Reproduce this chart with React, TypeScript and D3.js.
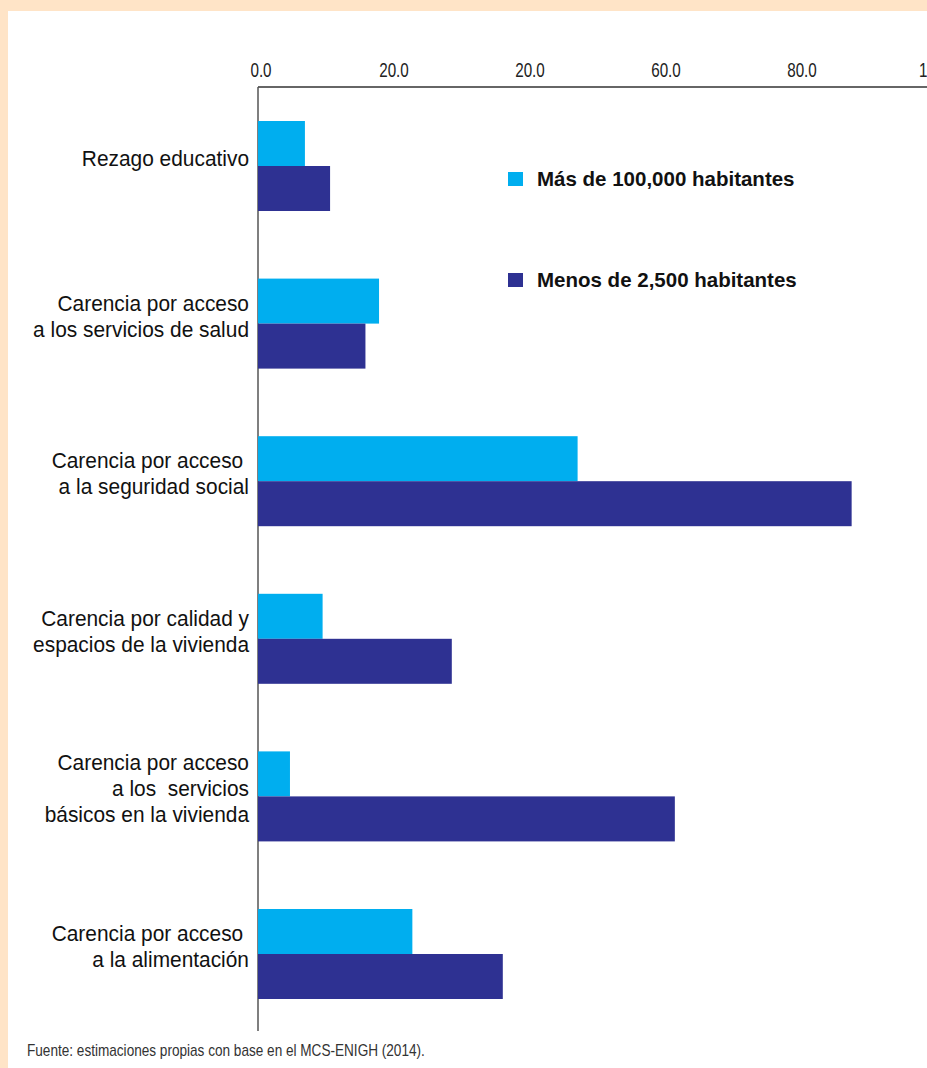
import React from 'react';
import * as d3 from 'd3';

// categorias (cada una con sus lineas de texto)
const categories = [
  'Rezago educativo',
  'Salud',
  'Seguridad social',
  'Vivienda',
  'Servicios basicos',
  'Alimentacion',
];
const categoryLines = [
  ['Rezago educativo'],
  ['Carencia por acceso', 'a los servicios de salud'],
  ['Carencia por acceso\u00a0', 'a la seguridad social'],
  ['Carencia por calidad y', 'espacios de la vivienda'],
  ['Carencia por acceso', 'a los  servicios', 'básicos en la vivienda'],
  ['Carencia por acceso\u00a0', 'a la alimentación'],
];
const seriesNames = ['Más de 100,000 habitantes', 'Menos de 2,500 habitantes'];
const masDe100mil = [6.9, 17.8, 47.0, 9.5, 4.7, 22.7];
const menosDe2500 = [10.6, 15.8, 87.3, 28.5, 61.3, 36.0];
const tickValues = [0, 20, 40, 60, 80, 100];
const tickLabels = ['0.0', '20.0', '20.0', '60.0', '80.0', '100.0'];
const colors = ['#00AEEF', '#2E3192'];

const W = 927;
const H = 1068;
const font = '"Liberation Sans", Arial, sans-serif';

export default function App() {
  const x = d3.scaleLinear().domain([0, 100]).range([258, 938]);
  const y = d3.scaleBand<string>().domain(categories).range([121, 999]).paddingInner(0.4289).paddingOuter(0);
  const inner = d3.scaleBand<number>().domain([0, 1]).range([0, y.bandwidth()]);
  const series = [masDe100mil, menosDe2500];

  return (
    <div style={{ position: 'absolute', top: 0, left: 0 }}>
      <svg width={W} height={H} style={{ display: 'block' }}>
        <rect x={0} y={0} width={W} height={H} fill="#FFE4C7" />
        <rect x={8} y={11} width={W - 8} height={H - 11} fill="#fff" />

        {/* ejes */}
        <line x1={x(0)} x2={W} y1={87} y2={87} stroke="#333" strokeWidth={1.5} />
        <line x1={x(0)} x2={x(0)} y1={87} y2={1031} stroke="#555" strokeWidth={1.5} />
        {tickValues.map((v, i) => (
          <text
            key={v}
            transform={`translate(${x(v) + (v === 0 ? 3 : 0)},77) scale(0.78,1)`}
            textAnchor="middle"
            fontFamily={font}
            fontSize={19.5}
            fill="#222"
          >
            {tickLabels[i]}
          </text>
        ))}

        {/* barras */}
        {categories.map((c, ci) => (
          <g key={c} transform={`translate(0,${y(c)})`}>
            {series.map((s, si) => (
              <rect
                key={si}
                x={x(0)}
                y={inner(si)}
                width={x(s[ci]) - x(0)}
                height={inner.bandwidth()}
                fill={colors[si]}
              />
            ))}
          </g>
        ))}

        {/* etiquetas */}
        {categories.map((c, ci) => {
          const lines = categoryLines[ci];
          const mid = (y(c) as number) + y.bandwidth() / 2;
          return (
            <text
              key={c}
              transform="translate(249,0) scale(0.95,1)"
              textAnchor="end"
              fontFamily={font}
              fontSize={22}
              fill="#111"
              style={{ whiteSpace: 'pre' }}
            >
              {lines.map((l, li) => (
                <tspan key={li} x={0} y={mid + (li - (lines.length - 1) / 2) * 26}>
                  {l}
                </tspan>
              ))}
            </text>
          );
        })}

        {/* leyenda */}
        {seriesNames.map((n, i) => (
          <g key={n} transform={`translate(508,${172 + i * 101})`}>
            <rect x={0} y={0} width={15} height={14} fill={colors[i]} />
            <text x={29} y={13.5} fontFamily={font} fontWeight="bold" fontSize={20.5} fill="#111">
              {n}
            </text>
          </g>
        ))}

        <text transform="translate(27,1056) scale(0.85,1)" fontFamily={font} fontSize={16} fill="#333">
          Fuente: estimaciones propias con base en el MCS-ENIGH (2014).
        </text>
      </svg>
    </div>
  );
}
